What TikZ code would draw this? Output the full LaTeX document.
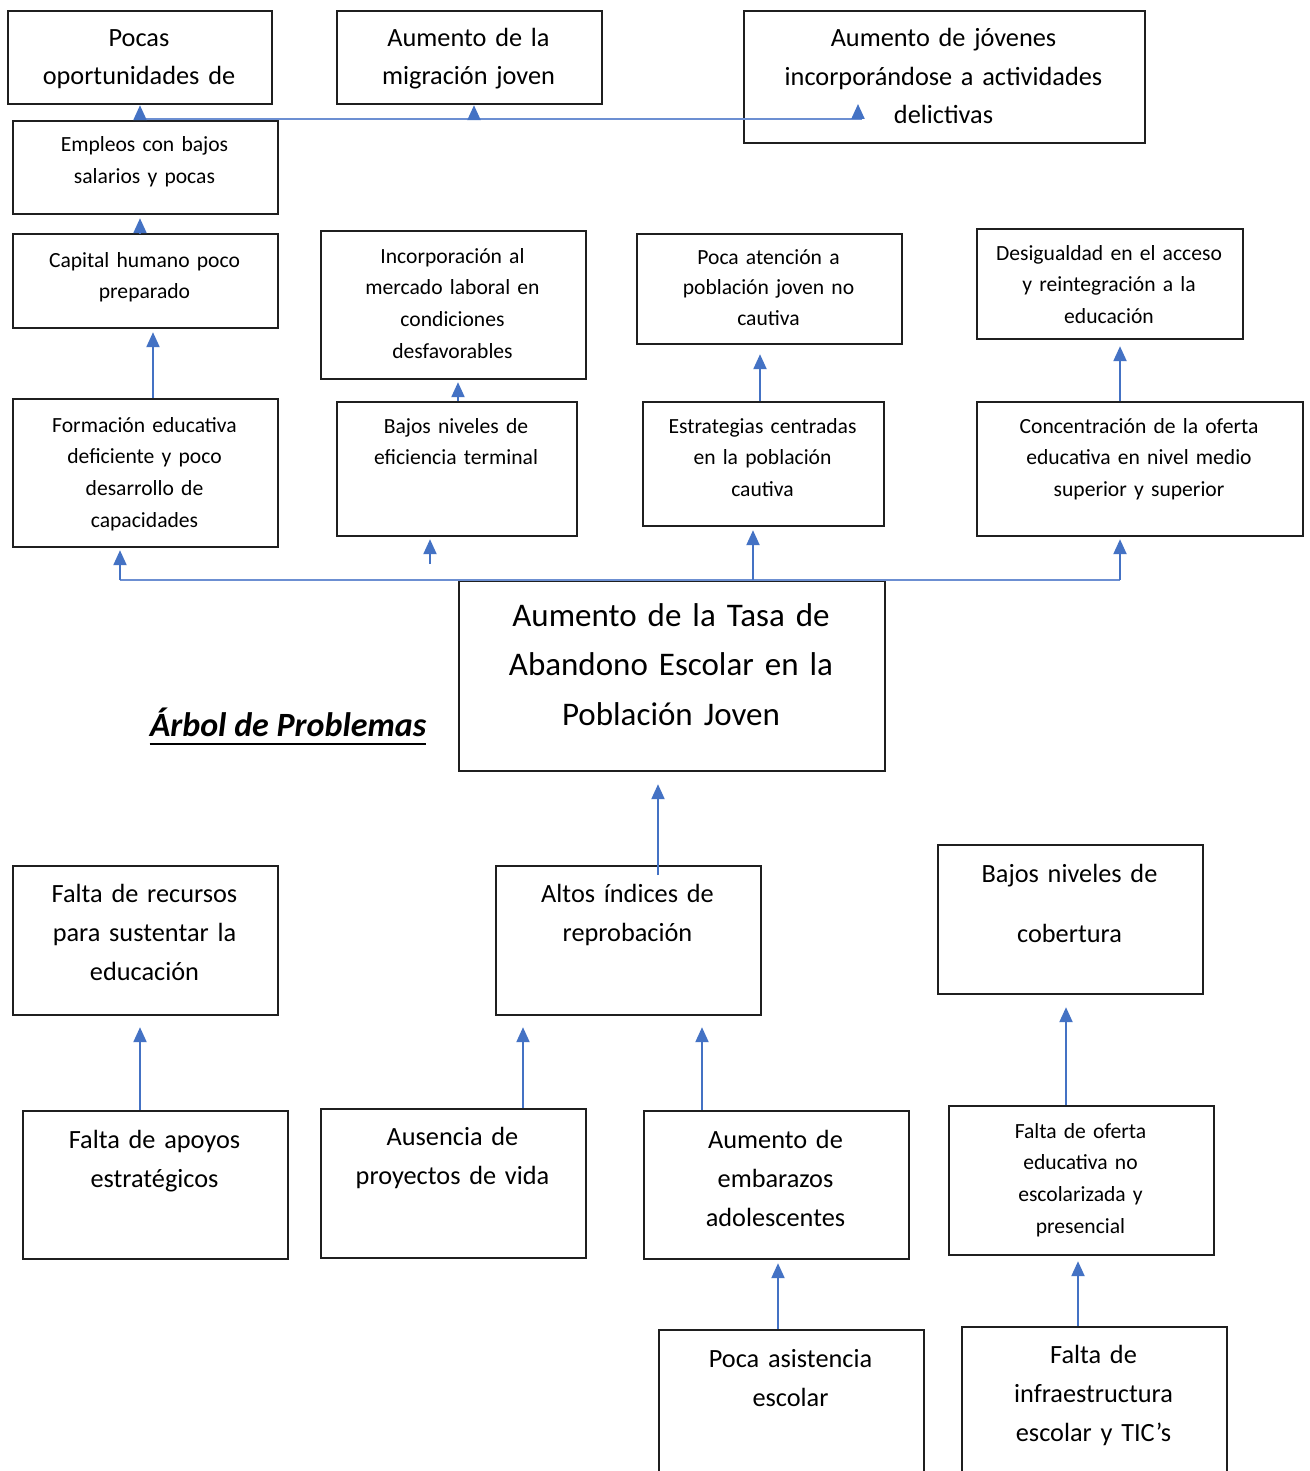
\documentclass[tikz,border=0pt]{standalone}
\usepackage{fontspec}
\setmainfont{Carlito}
\usetikzlibrary{arrows.meta}
\definecolor{arrowblue}{HTML}{4472C4}
\definecolor{lineblue}{HTML}{6C8FD2}
\tikzset{
  box/.style={draw=black!88, line width=2.2pt, inner sep=0pt, anchor=north west},
  txt/.style={inner sep=0pt, align=center, anchor=base},
  fa/.style={txt, font=\fontsize{26.3}{38}\selectfont},
  fb/.style={txt, font=\fontsize{26.3}{39.3}\selectfont},
  fs/.style={txt, font=\fontsize{21.6}{31.7}\selectfont},
  fc/.style={txt, font=\fontsize{33}{49.5}\selectfont},
  arr/.style={draw=arrowblue, line width=2.2pt, -{Triangle[width=13pt,length=15pt]}},
  hline/.style={draw=lineblue, line width=2pt}
}
\begin{document}
\begin{tikzpicture}[x=1pt,y=-1pt]
\fill[white] (0,0) rectangle (1309,1471);
\clip (0,0) rectangle (1309,1471);
% ---------- boxes ----------
\node[box, minimum width=264, minimum height=93] (b1) at (7,10) {};
\node[box, minimum width=265, minimum height=93] (b2) at (336,10) {};
\node[box, minimum width=401, minimum height=132] (b3) at (743,10) {};
\node[box, minimum width=265, minimum height=93] (b4) at (12,120) {};
\node[box, minimum width=265, minimum height=94] (b5) at (12,233) {};
\node[box, minimum width=265, minimum height=148] (b6) at (320,230) {};
\node[box, minimum width=265, minimum height=110] (b7) at (636,233) {};
\node[box, minimum width=266, minimum height=110] (b8) at (976,228) {};
\node[box, minimum width=265, minimum height=148] (b9) at (12,398) {};
\node[box, minimum width=240, minimum height=134] (b10) at (336,401) {};
\node[box, minimum width=241, minimum height=124] (b11) at (642,401) {};
\node[box, minimum width=326, minimum height=134] (b12) at (976,401) {};
\node[box, minimum width=426, minimum height=190] (b13) at (458,580) {};
\node[box, minimum width=265, minimum height=149] (b15) at (12,865) {};
\node[box, minimum width=265, minimum height=149] (b16) at (495,865) {};
\node[box, minimum width=265, minimum height=149] (b17) at (937,844) {};
\node[box, minimum width=265, minimum height=148] (b18) at (22,1110) {};
\node[box, minimum width=265, minimum height=149] (b19) at (320,1108) {};
\node[box, minimum width=265, minimum height=148] (b20) at (643,1110) {};
\node[box, minimum width=265, minimum height=149] (b21) at (948,1105) {};
\node[box, minimum width=265, minimum height=170] (b22) at (658,1329) {};
\node[box, minimum width=265, minimum height=170] (b23) at (961,1326) {};
% ---------- texts ----------
\node[fa, text width=264] (t1) at (139,47) {Pocas\\oportunidades de};
\node[fa, text width=265] (t2) at (468.5,47) {Aumento de la\\migración joven};
\node[fa, text width=400, font=\fontsize{26.3}{38.5}\selectfont] (t3) at (943.5,47) {Aumento de jóvenes\\incorporándose a actividades\\delictivas};
\node[fs, text width=265] (t4) at (144.5,152) {Empleos con bajos\\salarios y pocas};
\node[fs, text width=265] (t5) at (144.5,267) {Capital humano poco\\preparado};
\node[fs, text width=265] (t6) at (452.5,263) {Incorporación al\\mercado laboral en\\condiciones\\desfavorables};
\node[fs, text width=265, font=\fontsize{21.6}{30}\selectfont] (t7) at (768.5,265) {Poca atención a\\población joven no\\cautiva};
\node[fs, text width=266] (t8) at (1109,260) {Desigualdad en el acceso\\y reintegración a la\\educación};
\node[fs, text width=265] (t9) at (144.5,432) {Formación educativa\\deficiente y poco\\desarrollo de\\capacidades};
\node[fs, text width=240] (t10) at (456,433) {Bajos niveles de\\eficiencia terminal};
\node[fs, text width=241] (t11) at (762.5,433) {Estrategias centradas\\en la población\\cautiva};
\node[fs, text width=326] (t12) at (1139,433) {Concentración de la oferta\\educativa en nivel medio\\superior y superior};
\node[fc, text width=426] (t13) at (671,626) {Aumento de la Tasa de\\Abandono Escolar en la\\Población Joven};
\node[fb, text width=265] (t15) at (144.5,902) {Falta de recursos\\para sustentar la\\educación};
\node[fb, text width=265] (t16) at (627.5,902) {Altos índices de\\reprobación};
\node[fb, text width=265, font=\fontsize{26.3}{60}\selectfont] (t17) at (1069.5,882) {Bajos niveles de\\cobertura};
\node[fb, text width=265] (t18) at (154.5,1148) {Falta de apoyos\\estratégicos};
\node[fb, text width=265] (t19) at (452.5,1145) {Ausencia de\\proyectos de vida};
\node[fb, text width=265] (t20) at (775.5,1148) {Aumento de\\embarazos\\adolescentes};
\node[fs, text width=265] (t21) at (1080.5,1138) {Falta de oferta\\educativa no\\escolarizada y\\presencial};
\node[fb, text width=265] (t22) at (790.5,1367) {Poca asistencia\\escolar};
\node[fb, text width=265] (t23) at (1093.5,1363) {Falta de\\infraestructura\\escolar y TIC's};
% ---------- title ----------
\node[txt, font=\fontsize{34}{40}\selectfont\bfseries\itshape] (ttl) at (288,736) {Árbol de Problemas};
\draw[line width=2.6pt] ([yshift=-8pt]ttl.base west) -- ([yshift=-8pt]ttl.base east);
% ---------- coordinates ----------
\coordinate (f1) at (140,119);
\coordinate (f2) at (474,119);
\coordinate (f3) at (858,119);
\coordinate (f3e) at (862,119);
\coordinate (f3t) at (858,104);
\coordinate (g1) at (120,580);
\coordinate (g2) at (430,564);
\coordinate (g3) at (753,580);
\coordinate (g4) at (1120,580);
\coordinate (c16) at (658,875);
% ---------- upper connectors ----------
\draw[hline] (f1) -- (f3e);
\draw[arr] (f1) -- (b1.south -| f1);
\draw[arr] (f2) -- (b2.south -| f2);
\draw[arr] (f3) -- (f3t);
\draw[arr, shorten >=3pt] (b5.north -| f1) -- (b4.south -| f1);
\draw[arr, shorten >=3pt] (b9.north -| 153,0) -- (b5.south -| 153,0);
\draw[arr, shorten >=2pt] (b10.north -| 458,0) -- (b6.south -| 458,0);
\draw[arr, shorten >=9pt] (b11.north -| 760,0) -- (b7.south -| 760,0);
\draw[arr, shorten >=6pt] (b12.north -| g4) -- (b8.south -| g4);
% ---------- fan from central problem ----------
\draw[hline] (g1) -- (g4);
\draw[arr, shorten >=2pt] (g1) -- (b9.south -| g1);
\draw[arr, shorten >=2pt] (g2) -- (b10.south -| g2);
\draw[arr, shorten >=3pt] (g3) -- (b11.south -| g3);
\draw[arr, shorten >=2pt] (g4) -- (b12.south -| g4);
% ---------- causes ----------
\draw[arr, shorten >=12pt] (c16) -- (b13.south -| c16);
\draw[arr, shorten >=11pt] (b18.north -| 140,0) -- (b15.south -| 140,0);
\draw[arr, shorten >=11pt] (b19.north -| 523,0) -- (b16.south -| 523,0);
\draw[arr, shorten >=11pt] (b20.north -| 702,0) -- (b16.south -| 702,0);
\draw[arr, shorten >=12pt] (b21.north -| 1066,0) -- (b17.south -| 1066,0);
\draw[arr, shorten >=3pt] (b22.north -| 778,0) -- (b20.south -| 778,0);
\draw[arr, shorten >=5pt] (b23.north -| 1078,0) -- (b21.south -| 1078,0);
\end{tikzpicture}
\end{document}
